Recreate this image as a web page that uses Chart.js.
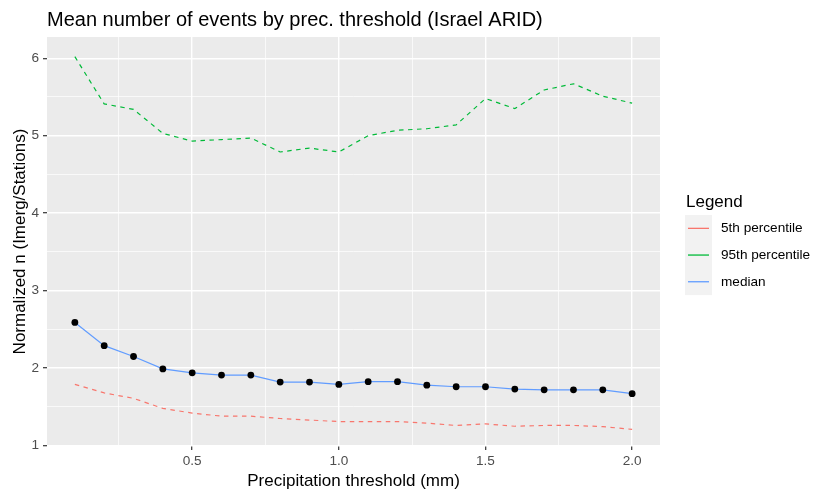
<!DOCTYPE html>
<html>
<head>
<meta charset="utf-8">
<script src="https://cdn.jsdelivr.net/npm/chart.js@4"></script>
<style>
  html, body { margin: 0; padding: 0; background: #ffffff; }
  #c { display: block; }
</style>
</head>
<body>
<canvas id="c" width="818" height="496"></canvas>
<script>
// ---- data ----
const thresholds = [0.1, 0.2, 0.3, 0.4, 0.5, 0.6, 0.7, 0.8, 0.9, 1.0, 1.1, 1.2, 1.3, 1.4, 1.5, 1.6, 1.7, 1.8, 1.9, 2.0];
const medianVals = [2.59, 2.29, 2.15, 1.99, 1.94, 1.91, 1.91, 1.82, 1.82, 1.79, 1.825, 1.825, 1.78, 1.76, 1.76, 1.73, 1.72, 1.72, 1.72, 1.67];
const p5Vals = [1.79, 1.68, 1.61, 1.48, 1.42, 1.38, 1.38, 1.35, 1.33, 1.31, 1.31, 1.31, 1.29, 1.26, 1.28, 1.25, 1.26, 1.26, 1.245, 1.21];
const p95Vals = [6.02, 5.41, 5.34, 5.03, 4.93, 4.95, 4.97, 4.79, 4.84, 4.79, 5.00, 5.07, 5.09, 5.14, 5.48, 5.35, 5.59, 5.67, 5.51, 5.42];
const xMajorTicks = [0.5, 1.0, 1.5, 2.0];
const xMinorTicks = [0.25, 0.75, 1.25, 1.75];
const yMajorTicks = [1, 2, 3, 4, 5, 6];
const yMinorTicks = [1.5, 2.5, 3.5, 4.5, 5.5];
const legendLabels = ['5th percentile', '95th percentile', 'median'];
const seriesColors = ['#F8766D', '#00BA38', '#619CFF'];
const titleText = 'Mean number of events by prec. threshold (Israel ARID)';
const xTitle = 'Precipitation threshold (mm)';
const yTitle = 'Normalized n (Imerg/Stations)';
const legendTitle = 'Legend';

const FONT = '"Liberation Sans", Arial, sans-serif';

const toPts = (ys) => thresholds.map((x, i) => ({ x: x, y: ys[i] }));
const isMajor = (v, majors) => majors.some(m => Math.abs(m - v) < 1e-9);

const panelBg = {
  id: 'panelBg',
  beforeDraw(chart) {
    const { ctx, chartArea: a } = chart;
    ctx.save();
    ctx.fillStyle = '#EBEBEB';
    ctx.fillRect(a.left, a.top, a.right - a.left, a.bottom - a.top);
    ctx.restore();
  }
};

const annotations = {
  id: 'annotations',
  afterDraw(chart) {
    const { ctx } = chart;
    ctx.save();
    // title
    ctx.fillStyle = '#000000';
    ctx.font = '20px ' + FONT;
    ctx.textAlign = 'left';
    ctx.textBaseline = 'alphabetic';
    ctx.fillText(titleText, 47, 26);
    // legend
    ctx.font = '17px ' + FONT;
    ctx.fillText(legendTitle, 686, 207);
    const keyX = 685, keyW = 27, keyTop = 215, keyH = 26.7;
    ctx.fillStyle = '#F2F2F2';
    ctx.fillRect(keyX, keyTop, keyW, keyH * 3);
    ctx.font = '13.6px ' + FONT;
    ctx.textBaseline = 'middle';
    for (let i = 0; i < legendLabels.length; i++) {
      const cy = keyTop + keyH * i + keyH / 2;
      ctx.strokeStyle = seriesColors[i];
      ctx.lineWidth = 1.3;
      ctx.beginPath();
      ctx.moveTo(keyX + 3, cy);
      ctx.lineTo(keyX + keyW - 3, cy);
      ctx.stroke();
      ctx.fillStyle = '#000000';
      ctx.fillText(legendLabels[i], 721, cy);
    }
    ctx.restore();
  }
};

new Chart(document.getElementById('c'), {
  type: 'line',
  data: {
    datasets: [
      {
        label: 'median',
        data: toPts(medianVals),
        borderColor: seriesColors[2],
        borderWidth: 1.2,
        pointRadius: 3.4,
        pointBackgroundColor: '#000000',
        pointBorderColor: '#000000',
        pointBorderWidth: 0,
        tension: 0,
        fill: false
      },
      {
        label: '95th percentile',
        data: toPts(p95Vals),
        borderColor: seriesColors[1],
        borderWidth: 1.2,
        borderDash: [4.5, 4.5],
        pointRadius: 0,
        tension: 0,
        fill: false
      },
      {
        label: '5th percentile',
        data: toPts(p5Vals),
        borderColor: seriesColors[0],
        borderWidth: 1.2,
        borderDash: [4.5, 4.5],
        pointRadius: 0,
        tension: 0,
        fill: false
      }
    ]
  },
  options: {
    responsive: false,
    animation: false,
    devicePixelRatio: 1,
    layout: { padding: { left: 0, top: 37, right: 158, bottom: 0 } },
    plugins: {
      legend: { display: false },
      tooltip: { enabled: false },
      title: { display: false }
    },
    scales: {
      x: {
        type: 'linear',
        min: 0.005,
        max: 2.095,
        afterBuildTicks: (scale) => {
          scale.ticks = xMinorTicks.concat(xMajorTicks).sort((a, b) => a - b).map(v => ({ value: v }));
        },
        afterFit: (scale) => { scale.height = 50; },
        border: { display: false },
        grid: {
          color: '#FFFFFF',
          lineWidth: (c) => (c.tick && isMajor(c.tick.value, xMajorTicks)) ? 1.4 : 0.7,
          tickColor: (c) => (c.tick && isMajor(c.tick.value, xMajorTicks)) ? '#333333' : 'rgba(0,0,0,0)',
          tickWidth: 1.2,
          tickLength: 4,
          drawTicks: true
        },
        ticks: {
          autoSkip: false,
          maxRotation: 0,
          padding: 3,
          color: '#4D4D4D',
          font: { family: FONT, size: 13.6 },
          callback: (v) => isMajor(v, xMajorTicks) ? Number(v).toFixed(1) : ''
        },
        title: {
          display: true,
          text: xTitle,
          color: '#000000',
          font: { family: FONT, size: 17 },
          padding: { top: 0, bottom: 4 }
        }
      },
      y: {
        type: 'linear',
        min: 0.995,
        max: 6.274,
        afterBuildTicks: (scale) => {
          scale.ticks = yMinorTicks.concat(yMajorTicks).sort((a, b) => a - b).map(v => ({ value: v }));
        },
        afterFit: (scale) => { scale.width = 47; },
        border: { display: false },
        grid: {
          color: '#FFFFFF',
          lineWidth: (c) => (c.tick && isMajor(c.tick.value, yMajorTicks)) ? 1.4 : 0.7,
          tickColor: (c) => (c.tick && isMajor(c.tick.value, yMajorTicks)) ? '#333333' : 'rgba(0,0,0,0)',
          tickWidth: 1.2,
          tickLength: 4,
          drawTicks: true
        },
        ticks: {
          autoSkip: false,
          padding: 4,
          color: '#4D4D4D',
          font: { family: FONT, size: 13.6 },
          callback: (v) => isMajor(v, yMajorTicks) ? String(v) : ''
        },
        title: {
          display: true,
          text: yTitle,
          color: '#000000',
          font: { family: FONT, size: 17 },
          padding: { top: 10, bottom: 0 }
        }
      }
    }
  },
  plugins: [panelBg, annotations]
});
</script>
</body>
</html>
